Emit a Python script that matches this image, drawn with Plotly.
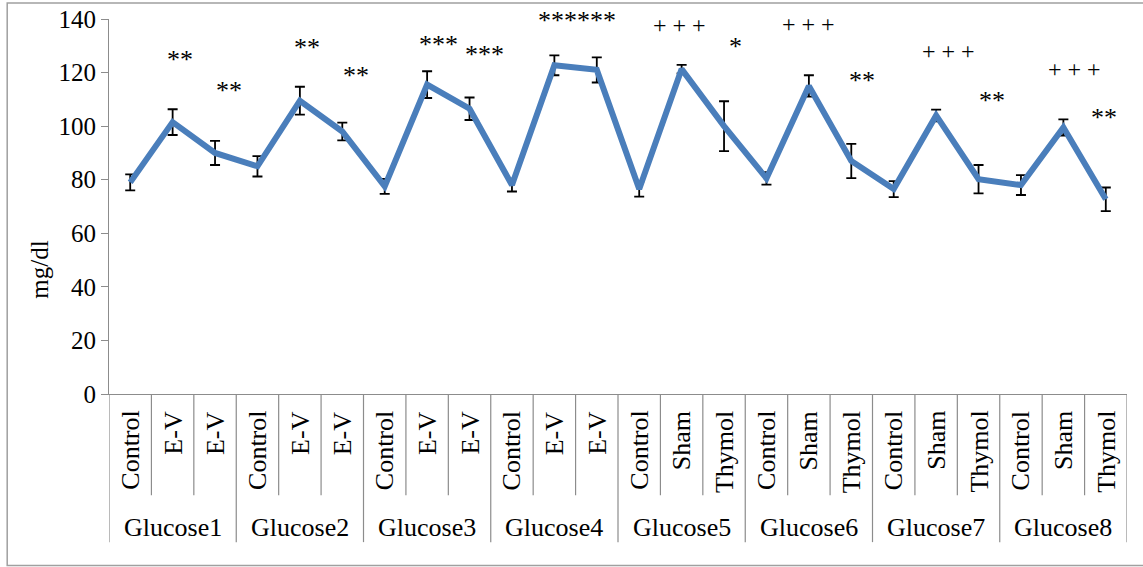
import plotly.graph_objects as go

# ---- data ----
sub_labels = ["Control", "E-V", "E-V",
              "Control", "E-V", "E-V",
              "Control", "E-V", "E-V",
              "Control", "E-V", "E-V",
              "Control", "Sham", "Thymol",
              "Control", "Sham", "Thymol",
              "Control", "Sham", "Thymol",
              "Control", "Sham", "Thymol"]
groups = ["Glucose1", "Glucose2", "Glucose3", "Glucose4",
          "Glucose5", "Glucose6", "Glucose7", "Glucose8"]
values = [79, 101.5, 90, 85, 109.5, 98, 77.5, 115.5, 106.5, 78, 122.7, 121,
          76.5, 121.3, 100, 80.5, 115, 87, 76.5, 104, 80.2, 78, 99.5, 72.7]
errors = [3, 4.8, 4.5, 3.8, 5.2, 3.3, 2.8, 5, 4.2, 2.4, 3.7, 4.7,
          2.8, 1.6, 9.3, 2.3, 4, 6.4, 3, 2.2, 5.3, 3.7, 3, 4.4]
sig_text = ["**", "**", "**", "**", "***", "***", "******", "+ + +", "*",
            "+ + +", "**", "+ + +", "**", "+ + +", "**"]
sig_x = [1.17, 2.33, 4.17, 5.32, 7.26, 8.36, 10.53, 12.94, 14.28,
         15.98, 17.25, 19.28, 20.32, 22.27, 22.96]
sig_y = [125.4, 113.8, 129.9, 119.4, 131.0, 127.3, 140.0, 137.7, 130.3,
         138.1, 117.6, 128.0, 110.1, 121.3, 103.8]
y_ticks = [0, 20, 40, 60, 80, 100, 120, 140]

FONT = "Times New Roman, Liberation Serif, serif"
GRAY = "#8c8c8c"
n = len(values)
xs = list(range(n))

fig = go.Figure()
fig.add_trace(go.Scatter(
    x=xs, y=values, mode="lines",
    line=dict(color="#4a7ebb", width=6),
    error_y=dict(type="data", array=errors, visible=True,
                 color="black", thickness=1.8, width=5),
    showlegend=False, hoverinfo="skip"))

annotations = []
shapes = []

# significance marks
for t, xv, yv in zip(sig_text, sig_x, sig_y):
    size = 26 if "*" in t else 24
    off = 0.6 if "*" in t else 0.0
    annotations.append(dict(x=xv, y=yv - off, xref="x", yref="y", text=t,
                            showarrow=False, font=dict(family=FONT, size=size, color="black")))

# inner category labels
for i, lab in enumerate(sub_labels):
    annotations.append(dict(x=i, y=-0.04, xref="x", yref="paper", text=lab,
                            textangle=-90, showarrow=False, yanchor="top",
                            xanchor="center",
                            font=dict(family=FONT, size=26, color="black")))
# group labels
for g, lab in enumerate(groups):
    annotations.append(dict(x=3 * g + 1, y=-0.355, xref="x", yref="paper", text=lab,
                            showarrow=False, yanchor="middle",
                            font=dict(family=FONT, size=26, color="black")))

# separators
for k in range(n + 1):
    bottom = -0.395 if k % 3 == 0 else -0.27
    shapes.append(dict(type="line", xref="x", yref="paper", x0=k - 0.5, x1=k - 0.5,
                       y0=0, y1=bottom, line=dict(color=GRAY, width=1.2)))

# y title
annotations.append(dict(x=-0.068, y=0.331, xref="paper", yref="paper", text="mg/dl",
                        textangle=-90, showarrow=False, xanchor="center",
                        yanchor="middle",
                        font=dict(family=FONT, size=25, color="black")))

# outer chart border
shapes.append(dict(type="rect", xref="paper", yref="paper",
                   x0=-0.1, x1=1.03, y0=-0.457, y1=1.043,
                   line=dict(color="#a0a0a0", width=1.5)))

fig.update_layout(
    width=1143, height=567,
    margin=dict(l=109, r=16, t=19, b=173, autoexpand=False),
    paper_bgcolor="white", plot_bgcolor="white",
    annotations=annotations, shapes=shapes,
    xaxis=dict(range=[-0.5, n - 0.5], showticklabels=False, showgrid=False,
               zeroline=False, showline=True, linecolor=GRAY, linewidth=1.2,
               ticks="", automargin=False),
    yaxis=dict(range=[0, 140], tickvals=y_ticks, showgrid=False, zeroline=False,
               showline=True, linecolor=GRAY, linewidth=1.2, automargin=False,
               ticks="outside", ticklen=7, tickcolor=GRAY, tickwidth=1.2,
               tickfont=dict(family=FONT, size=25, color="black")),
)

fig.write_html("out.html", config={"displayModeBar": False},
               post_script="document.body.style.margin='0';document.body.style.overflow='hidden';")
